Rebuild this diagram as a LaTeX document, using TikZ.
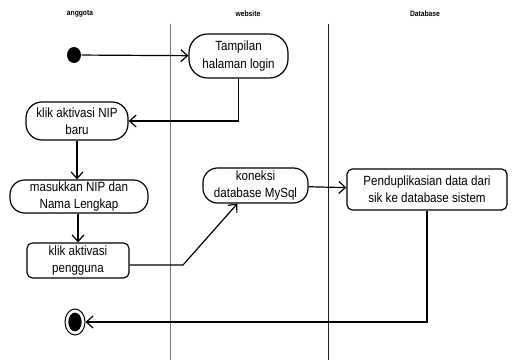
\documentclass[tikz,border=0pt]{standalone}
\usepackage{fontspec}
\setmainfont{Liberation Sans}[FakeStretch=0.87]
\usetikzlibrary{arrows.meta,shapes.geometric}

\tikzset{every picture/.style={line width=0.9pt}}
\tikzset{
  act/.style={draw, rounded corners=11pt, align=center, inner sep=1pt, font=\fontsize{10}{13}\selectfont},
  actbox/.style={act, rounded corners=4pt},
  flow/.style={-{Straight Barb[length=5pt,width=9pt]}},
  lanetitle/.style={font=\bfseries\fontsize{5.8}{6}\selectfont},
  laneline/.style={line width=0.6pt},
}

\begin{document}
\begin{tikzpicture}[x=0.75pt,y=0.75pt,yscale=-1,xscale=1]
\useasboundingbox (0,0) rectangle (518,360);

% Lanes
\node[lanetitle] (tanggota) at (80,14) {anggota};
\node[lanetitle] (twebsite) at (248,14) {website};
\node[lanetitle] (tdatabase) at (425,14) {Database};
\draw[laneline, color={rgb, 255:red, 120; green, 120; blue, 120 }] (170,24) -- (170,360);
\draw[laneline, color={rgb, 255:red, 30; green, 30; blue, 30 }] (328,24) -- (328,360);

% Start and end
\node[ellipse, fill=black, minimum width=10.5pt, minimum height=12pt, inner sep=0pt] (start) at (74,55) {};
\node[ellipse, draw, line width=0.75pt, minimum width=15pt, minimum height=19.5pt, inner sep=0pt] (finish) at (75,322) {};
\fill (finish.center) ellipse (5pt and 7pt);

% Activities
\node[act, rounded corners=14pt, minimum width=74.25pt, minimum height=33pt] (tampil) at (238.5,56) {Tampilan\\halaman login};
\node[act, rounded corners=12pt, minimum width=76.5pt, minimum height=28.5pt] (klikNIP) at (77,121) {klik aktivasi NIP\\baru};
\node[act, minimum width=103.5pt, minimum height=24.75pt] (masuk) at (79,196.5) {masukkan NIP dan\\Nama Lengkap};
\node[actbox, minimum width=76.5pt, minimum height=26.25pt] (pengguna) at (78,260.5) {klik aktivasi\\pengguna};
\node[act, minimum width=78.75pt, minimum height=26.25pt] (koneksi) at (255.5,185.5) {koneksi\\database MySql};
\node[actbox, minimum width=120pt, minimum height=30.75pt] (dupli) at (427,189.5) {Penduplikasian data dari\\sik ke database sistem};

% Flows
\draw[flow] (start) -- (tampil);
\draw[flow] (tampil.south) |- (klikNIP.east);
\draw[flow] (klikNIP.south) -- (klikNIP.south |- masuk.north);
\draw[flow] (masuk.south -| pengguna.north) -- (pengguna.north);
\coordinate (belok) at (183,265);
\draw[flow] (pengguna.east |- belok) -- (belok) -- (koneksi.-135);
\draw[flow] (koneksi) -- (dupli);
\draw[flow] (dupli.south) |- (finish.east);

\end{tikzpicture}
\end{document}
